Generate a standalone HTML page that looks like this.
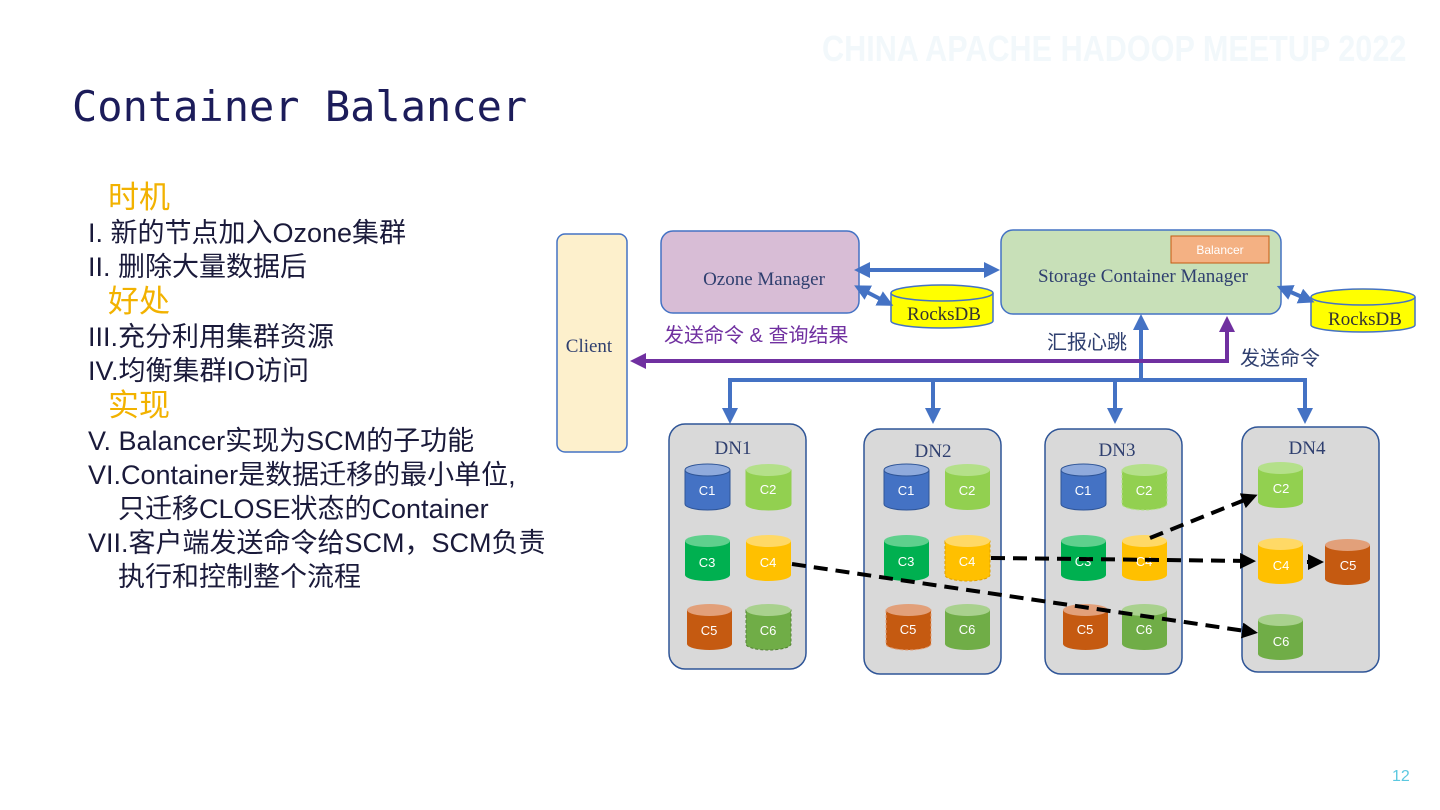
<!DOCTYPE html>
<html><head><meta charset="utf-8"><style>
body{margin:0;width:1440px;height:810px;background:#fff;overflow:hidden;position:relative;font-family:"Liberation Sans","Noto Sans CJK SC",sans-serif}
.t{position:absolute;white-space:nowrap}
</style></head><body>
<div class="t" style="left:822px;top:28px;font-size:36px;color:#f2f8fb;font-weight:bold;transform:scaleX(0.85);transform-origin:0 0">CHINA APACHE HADOOP MEETUP 2022</div>
<div class="t" style="left:72px;top:82px;font-size:42px;color:#1c1c5a;font-family:'DejaVu Sans Mono','Liberation Mono',monospace">Container Balancer</div>
<div class="t" style="left:88px;top:180px;font-size:27px;line-height:34px;color:#1a1a3a">
<div style="color:#f2b200;font-size:31px;padding-left:20px;line-height:36px">时机</div>
<div>I.  新的节点加入Ozone集群</div>
<div>II. 删除大量数据后</div>
<div style="color:#f2b200;font-size:31px;padding-left:20px;line-height:36px">好处</div>
<div>III.充分利用集群资源</div>
<div>IV.均衡集群IO访问</div>
<div style="color:#f2b200;font-size:31px;padding-left:20px;line-height:36px">实现</div>
<div>V. Balancer实现为SCM的子功能</div>
<div>VI.Container是数据迁移的最小单位,</div>
<div style="padding-left:30px">只迁移CLOSE状态的Container</div>
<div>VII.客户端发送命令给SCM，SCM负责</div>
<div style="padding-left:30px">执行和控制整个流程</div>
</div>
<div class="t" style="left:1392px;top:768px;font-size:16px;color:#5bc8e0">12</div>
<svg width="1440" height="810" style="position:absolute;left:0;top:0" font-family="Liberation Serif,serif">
<defs>
<marker id="ab" markerWidth="4" markerHeight="4" refX="2.5" refY="2" orient="auto"><path d="M0,0L4,2L0,4z" fill="#4472c4"/></marker>
<marker id="ap" markerWidth="4" markerHeight="4" refX="2.5" refY="2" orient="auto"><path d="M0,0L4,2L0,4z" fill="#7030a0"/></marker>
<marker id="ak" markerWidth="4" markerHeight="4" refX="2.5" refY="2" orient="auto"><path d="M0,0L4,2L0,4z" fill="#000"/></marker>
<marker id="abs" markerWidth="4" markerHeight="4" refX="1.5" refY="2" orient="auto-start-reverse"><path d="M0,0L4,2L0,4z" fill="#4472c4"/></marker>
</defs>
<rect x="557" y="234" width="70" height="218" rx="8" fill="#fdf0cc" stroke="#4472c4" stroke-width="1.5"/>
<text x="589" y="352" font-size="19" text-anchor="middle" fill="#2f3f6f">Client</text>
<rect x="661" y="231" width="198" height="82" rx="12" fill="#d8bdd6" stroke="#4472c4" stroke-width="1.5"/>
<text x="764" y="285" font-size="19" text-anchor="middle" fill="#2f3f6f">Ozone Manager</text>
<rect x="1001" y="230" width="280" height="84" rx="12" fill="#c8e0b8" stroke="#4472c4" stroke-width="1.5"/>
<rect x="1171" y="236" width="98" height="27" fill="#f4b183" stroke="#c55a11"/>
<text x="1220" y="254" font-size="12" text-anchor="middle" fill="#fff" font-family="Liberation Sans">Balancer</text>
<text x="1143" y="282" font-size="19" text-anchor="middle" fill="#2f3f6f">Storage Container Manager</text>
<g stroke="#4472c4" stroke-width="1.5" fill="#ffff00">
<path d="M891,293 v28 a51,7 0 0 0 102,0 v-28"/><ellipse cx="942" cy="293" rx="51" ry="8"/>
<path d="M1311,297 v28 a52,7 0 0 0 104,0 v-28"/><ellipse cx="1363" cy="297" rx="52" ry="8"/>
</g>
<text x="944" y="320" font-size="19" text-anchor="middle" fill="#333">RocksDB</text>
<text x="1365" y="325" font-size="19" text-anchor="middle" fill="#333">RocksDB</text>
<g stroke="#4472c4" stroke-width="4" fill="none">
<line x1="864" y1="270" x2="994" y2="270" marker-start="url(#abs)" marker-end="url(#ab)"/>
<line x1="863" y1="290" x2="888" y2="303" marker-start="url(#abs)" marker-end="url(#ab)"/>
<line x1="1286" y1="290" x2="1309" y2="300" marker-start="url(#abs)" marker-end="url(#ab)"/>
<line x1="1141" y1="380" x2="1141" y2="320" marker-end="url(#ab)"/>
<path d="M730,415 V380 H1305 V418" />
<line x1="730" y1="385" x2="730" y2="418" marker-end="url(#ab)"/>
<line x1="933" y1="380" x2="933" y2="418" marker-end="url(#ab)"/>
<line x1="1115" y1="380" x2="1115" y2="418" marker-end="url(#ab)"/>
<line x1="1305" y1="385" x2="1305" y2="418" marker-end="url(#ab)"/>
</g>
<path d="M1227,320 V361 H636" stroke="#7030a0" stroke-width="4" fill="none" marker-end="url(#ap)"/>
<path d="M1227,361 V322" stroke="#7030a0" stroke-width="4" marker-end="url(#ap)"/>
<text x="664" y="342" font-size="20" fill="#7030a0" font-family="Liberation Sans,Noto Sans CJK SC,sans-serif">发送命令 &amp; 查询结果</text>
<text x="1047" y="349" font-size="20" fill="#2f3f6f" font-family="Liberation Sans,Noto Sans CJK SC,sans-serif">汇报心跳</text>
<text x="1240" y="365" font-size="20" fill="#2f3f6f" font-family="Liberation Sans,Noto Sans CJK SC,sans-serif">发送命令</text>
<g fill="#d9d9d9" stroke="#2f5597" stroke-width="1.5">
<rect x="669" y="424" width="137" height="245" rx="16"/>
<rect x="864" y="429" width="137" height="245" rx="16"/>
<rect x="1045" y="429" width="137" height="245" rx="16"/>
<rect x="1242" y="427" width="137" height="245" rx="16"/>
</g>
<g font-size="19" fill="#2f3f6f" text-anchor="middle">
<text x="733" y="454">DN1</text><text x="933" y="457">DN2</text><text x="1117" y="456">DN3</text><text x="1307" y="454">DN4</text>
</g>
<g font-family="Liberation Sans,sans-serif" font-size="13">
<g><path d="M685,470 v34 a22.5,6 0 0 0 45,0 v-34z" fill="#4472c4" stroke="#2f5597"/><ellipse cx="707.5" cy="470" rx="22.5" ry="6" fill="#8faadc" stroke="#2f5597"/><text x="707" y="495" fill="#fff" text-anchor="middle">C1</text></g>
<g><path d="M746,470 v34 a22.5,6 0 0 0 45,0 v-34z" fill="#92d050" stroke="#92d050"/><ellipse cx="768.5" cy="470" rx="22.5" ry="6" fill="#b4e08a"/><text x="768" y="494" fill="#fff" text-anchor="middle">C2</text></g>
<g><path d="M685,541 v34 a22.5,6 0 0 0 45,0 v-34z" fill="#00b050"/><ellipse cx="707.5" cy="541" rx="22.5" ry="6" fill="#5fd08d"/><text x="707" y="567" fill="#fff" text-anchor="middle">C3</text></g>
<g><path d="M746,541 v34 a22.5,6 0 0 0 45,0 v-34z" fill="#ffc000"/><ellipse cx="768.5" cy="541" rx="22.5" ry="6" fill="#ffd966"/><text x="768" y="567" fill="#fff" text-anchor="middle">C4</text></g>
<g><path d="M687,610 v34 a22.5,6 0 0 0 45,0 v-34z" fill="#c55a11"/><ellipse cx="709.5" cy="610" rx="22.5" ry="6" fill="#e2a07a"/><text x="709" y="635" fill="#fff" text-anchor="middle">C5</text></g>
<g><path d="M746,610 v34 a22.5,6 0 0 0 45,0 v-34z" fill="#70ad47" stroke="#548235" stroke-dasharray="3,2"/><ellipse cx="768.5" cy="610" rx="22.5" ry="6" fill="#a9d18e"/><text x="768" y="635" fill="#fff" text-anchor="middle">C6</text></g>
<g><path d="M884,470 v34 a22.5,6 0 0 0 45,0 v-34z" fill="#4472c4" stroke="#2f5597"/><ellipse cx="906.5" cy="470" rx="22.5" ry="6" fill="#8faadc" stroke="#2f5597"/><text x="906" y="495" fill="#fff" text-anchor="middle">C1</text></g>
<g><path d="M945,470 v34 a22.5,6 0 0 0 45,0 v-34z" fill="#92d050"/><ellipse cx="967.5" cy="470" rx="22.5" ry="6" fill="#b4e08a"/><text x="967" y="495" fill="#fff" text-anchor="middle">C2</text></g>
<g><path d="M884,541 v34 a22.5,6 0 0 0 45,0 v-34z" fill="#00b050"/><ellipse cx="906.5" cy="541" rx="22.5" ry="6" fill="#5fd08d"/><text x="906" y="566" fill="#fff" text-anchor="middle">C3</text></g>
<g><path d="M945,541 v34 a22.5,6 0 0 0 45,0 v-34z" fill="#ffc000" stroke="#e0a000" stroke-dasharray="3,2"/><ellipse cx="967.5" cy="541" rx="22.5" ry="6" fill="#ffd966"/><text x="967" y="566" fill="#fff" text-anchor="middle">C4</text></g>
<g><path d="M886,610 v34 a22.5,6 0 0 0 45,0 v-34z" fill="#c55a11" stroke="#e2a07a" stroke-dasharray="3,2"/><ellipse cx="908.5" cy="610" rx="22.5" ry="6" fill="#e2a07a"/><text x="908" y="634" fill="#fff" text-anchor="middle">C5</text></g>
<g><path d="M945,610 v34 a22.5,6 0 0 0 45,0 v-34z" fill="#70ad47"/><ellipse cx="967.5" cy="610" rx="22.5" ry="6" fill="#a9d18e"/><text x="967" y="634" fill="#fff" text-anchor="middle">C6</text></g>
<g><path d="M1061,470 v34 a22.5,6 0 0 0 45,0 v-34z" fill="#4472c4" stroke="#2f5597"/><ellipse cx="1083.5" cy="470" rx="22.5" ry="6" fill="#8faadc" stroke="#2f5597"/><text x="1083" y="495" fill="#fff" text-anchor="middle">C1</text></g>
<g><path d="M1122,470 v34 a22.5,6 0 0 0 45,0 v-34z" fill="#92d050" stroke="#b4e08a" stroke-dasharray="3,2"/><ellipse cx="1144.5" cy="470" rx="22.5" ry="6" fill="#b4e08a"/><text x="1144" y="495" fill="#fff" text-anchor="middle">C2</text></g>
<g><path d="M1061,541 v34 a22.5,6 0 0 0 45,0 v-34z" fill="#00b050"/><ellipse cx="1083.5" cy="541" rx="22.5" ry="6" fill="#5fd08d"/><text x="1083" y="566" fill="#fff" text-anchor="middle">C3</text></g>
<g><path d="M1122,541 v34 a22.5,6 0 0 0 45,0 v-34z" fill="#ffc000"/><ellipse cx="1144.5" cy="541" rx="22.5" ry="6" fill="#ffd966"/><text x="1144" y="566" fill="#fff" text-anchor="middle">C4</text></g>
<g><path d="M1063,610 v34 a22.5,6 0 0 0 45,0 v-34z" fill="#c55a11"/><ellipse cx="1085.5" cy="610" rx="22.5" ry="6" fill="#e2a07a"/><text x="1085" y="634" fill="#fff" text-anchor="middle">C5</text></g>
<g><path d="M1122,610 v34 a22.5,6 0 0 0 45,0 v-34z" fill="#70ad47"/><ellipse cx="1144.5" cy="610" rx="22.5" ry="6" fill="#a9d18e"/><text x="1144" y="634" fill="#fff" text-anchor="middle">C6</text></g>
<g><path d="M1258,468 v34 a22.5,6 0 0 0 45,0 v-34z" fill="#92d050"/><ellipse cx="1280.5" cy="468" rx="22.5" ry="6" fill="#b4e08a"/><text x="1281" y="493" fill="#fff" text-anchor="middle">C2</text></g>
<g><path d="M1258,544 v34 a22.5,6 0 0 0 45,0 v-34z" fill="#ffc000"/><ellipse cx="1280.5" cy="544" rx="22.5" ry="6" fill="#ffd966"/><text x="1281" y="570" fill="#fff" text-anchor="middle">C4</text></g>
<g><path d="M1325,545 v34 a22.5,6 0 0 0 45,0 v-34z" fill="#c55a11"/><ellipse cx="1347.5" cy="545" rx="22.5" ry="6" fill="#e2a07a"/><text x="1348" y="570" fill="#fff" text-anchor="middle">C5</text></g>
<g><path d="M1258,620 v34 a22.5,6 0 0 0 45,0 v-34z" fill="#70ad47"/><ellipse cx="1280.5" cy="620" rx="22.5" ry="6" fill="#a9d18e"/><text x="1281" y="646" fill="#fff" text-anchor="middle">C6</text></g>
</g>
<g stroke="#000" stroke-width="4" stroke-dasharray="14,8" fill="none">
<line x1="792" y1="564" x2="1252" y2="632" marker-end="url(#ak)"/>
<line x1="991" y1="558" x2="1250" y2="561" marker-end="url(#ak)"/>
<line x1="1307" y1="562" x2="1318" y2="562" stroke-dasharray="none" marker-end="url(#ak)"/>
<line x1="1150" y1="538" x2="1252" y2="497" marker-end="url(#ak)"/>
</g>
</svg>
</body></html>
